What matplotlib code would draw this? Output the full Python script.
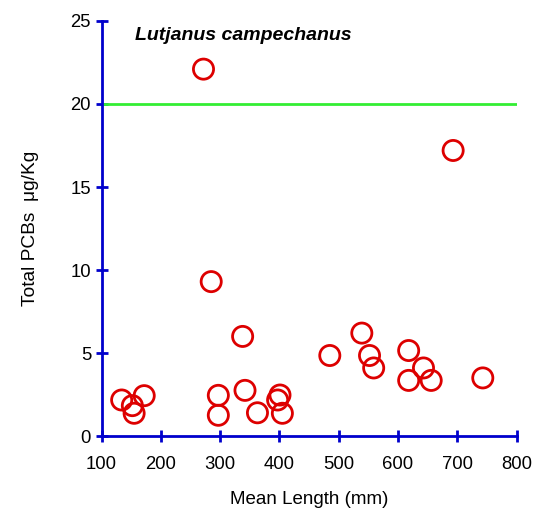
import matplotlib
matplotlib.use("Agg")
import matplotlib.pyplot as plt

plt.rcParams['font.family'] = ['Liberation Sans', 'DejaVu Sans']

length_mm = [134, 152, 155, 172, 338, 342, 297, 297, 363, 401, 397, 405,
             485, 539, 552, 559, 618, 618, 643, 656, 743, 272, 693, 285]
pcbs = [2.17, 1.83, 1.37, 2.43, 6.0, 2.75, 2.45, 1.25, 1.40, 2.47, 2.17, 1.37,
        4.85, 6.2, 4.85, 4.1, 5.15, 3.35, 4.1, 3.35, 3.5, 22.1, 17.2, 9.3]
threshold = 20
x_ticks = [100, 200, 300, 400, 500, 600, 700, 800]
y_ticks = [0, 5, 10, 15, 20, 25]

fig = plt.figure(figsize=(5.44, 5.12), dpi=100)
ax = fig.add_axes([0.1866, 0.1484, 0.763, 0.8106])

blue = '#0000cc'
ax.plot([100, 800], [threshold, threshold], color='#33ee33', lw=2, zorder=2)
ax.scatter(length_mm, pcbs, s=14.5**2, facecolors='none', edgecolors='#dd0000',
           linewidths=2, zorder=3, clip_on=False)

ax.set_xlim(100, 800)
ax.set_ylim(0, 25)
ax.set_xticks(x_ticks)
ax.set_yticks(y_ticks)
for s in ['top', 'right']:
    ax.spines[s].set_visible(False)
for s in ['left', 'bottom']:
    ax.spines[s].set_color(blue)
    ax.spines[s].set_linewidth(2)
ax.tick_params(axis='both', direction='inout', length=9, width=2, color=blue,
               labelsize=13.3, labelcolor='black')
ax.tick_params(axis='x', pad=10)
ax.tick_params(axis='y', pad=3)

ax.set_xlabel('Mean Length (mm)', fontsize=13.5, labelpad=13)
ax.set_ylabel('Total PCBs  μg/Kg', fontsize=13.8, labelpad=23)
ax.text(156.5, 24.15, 'Lutjanus campechanus', fontsize=14, fontweight='bold',
        fontstyle='italic', ha='left', va='center')

fig.savefig('out.png', dpi=100)
